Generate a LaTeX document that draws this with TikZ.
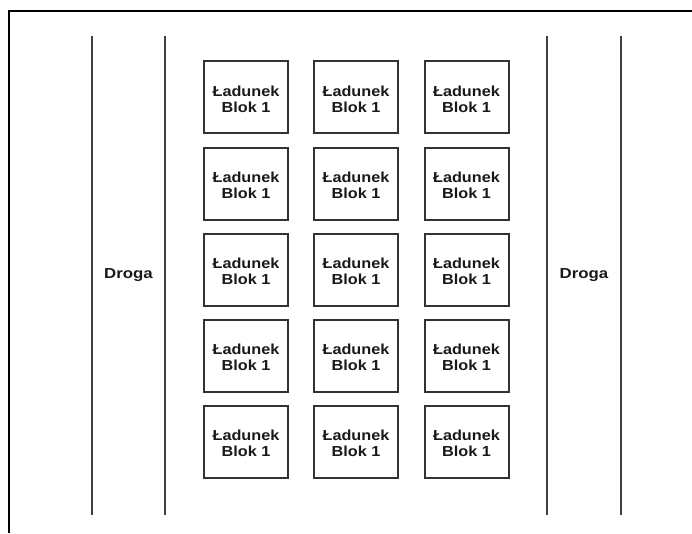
\documentclass[tikz,border=0pt]{standalone}
\usepackage{fontspec}
\setmainfont{Liberation Sans}
\usepackage{graphicx}
\tikzset{
  frameline/.style={line width=2pt, draw=black},
  roadline/.style={line width=2pt, draw=black!75},
  cargo/.style={draw=black!80, line width=2pt, minimum width=84pt, minimum height=72pt, inner sep=0pt},
  cargotext/.style={align=center, font=\fontsize{14.5pt}{16pt}\selectfont\bfseries, text=black!90, inner sep=0pt},
  roadlabel/.style={font=\fontsize{14.5pt}{16pt}\selectfont\bfseries, text=black!90, inner sep=0pt}
}
\begin{document}
\begin{tikzpicture}[x=1pt,y=-1pt]
\useasboundingbox (0,0) rectangle (692,533);
\fill[white] (0,0) rectangle (692,533);
% outer frame (partially visible)
\coordinate (ftr) at (692,11);
\coordinate (ftl) at (9,11);
\coordinate (fbl) at (9,533);
\draw[frameline] (ftr) -- (ftl) -- (fbl);
% road lines
\foreach \n/\x in {a/92,b/165,c/547,d/621}{
  \coordinate (\n top) at (\x,36);
  \coordinate (\n bot) at (\x,515);
  \draw[roadline] (\n top) -- (\n bot);
}
\node[roadlabel] (droga1) at (128.5,275) {\scalebox{1.16}[1]{Droga}};
\node[roadlabel] (droga2) at (584,275) {\scalebox{1.16}[1]{Droga}};
% cargo blocks
\foreach \c/\x in {1/246,2/356,3/466.5}{
  \foreach \r/\y in {1/97,2/183.5,3/269.5,4/355.5,5/441.5}{
    \node[cargo] (b\r\c) at (\x,\y) {};
    \node[cargotext] (t\r\c) at (\x,\y+2) {\scalebox{1.12}[1]{Ładunek}\\\scalebox{1.12}[1]{Blok 1}};
  }
}
\end{tikzpicture}
\end{document}
